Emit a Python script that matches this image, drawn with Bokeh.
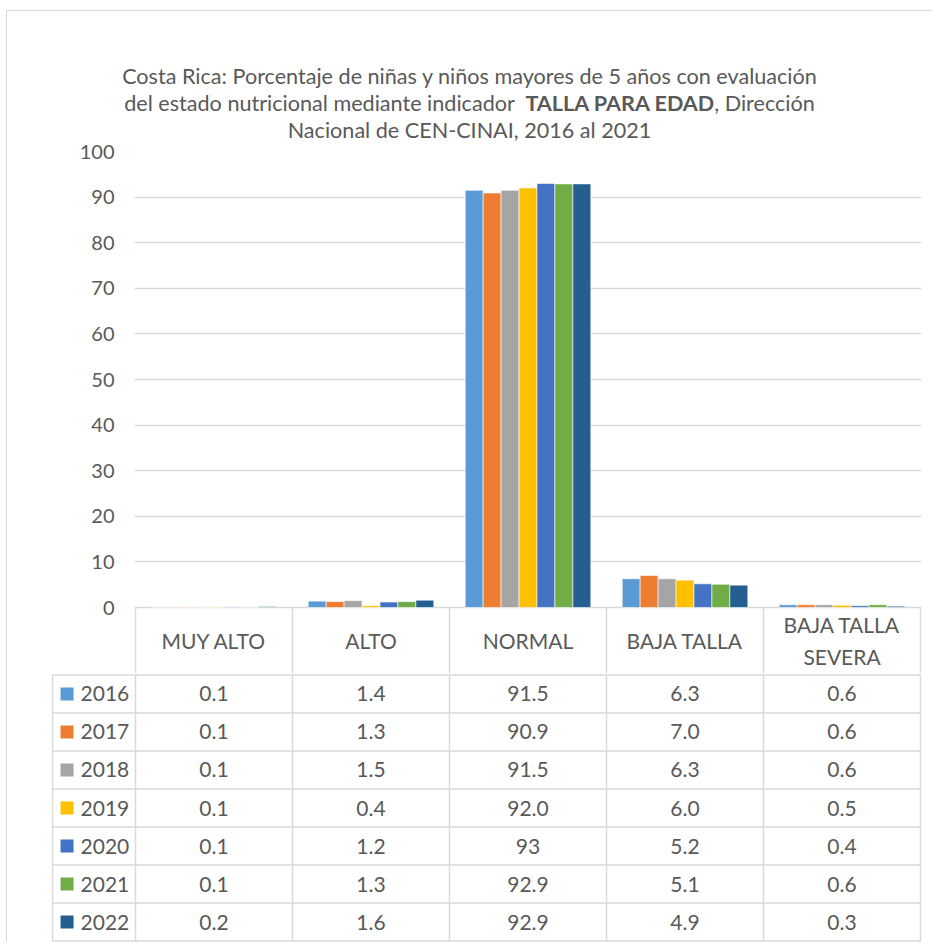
from bokeh.plotting import figure
from bokeh.models import Range1d, FixedTicker, ColumnDataSource, Div
from bokeh.transform import dodge
from bokeh.layouts import column
from bokeh.core.properties import value
from bokeh.embed import file_html
from bokeh.resources import INLINE

# ---------------- data ----------------
categories = ["MUY ALTO", "ALTO", "NORMAL", "BAJA TALLA", "BAJA TALLA SEVERA"]
header_labels = ["MUY ALTO", "ALTO", "NORMAL", "BAJA TALLA", "BAJA TALLA\nSEVERA"]
years = ["2016", "2017", "2018", "2019", "2020", "2021", "2022"]
v2016 = [0.1, 1.4, 91.5, 6.3, 0.6]
v2017 = [0.1, 1.3, 90.9, 7.0, 0.6]
v2018 = [0.1, 1.5, 91.5, 6.3, 0.6]
v2019 = [0.1, 0.4, 92.0, 6.0, 0.5]
v2020 = [0.1, 1.2, 93, 5.2, 0.4]
v2021 = [0.1, 1.3, 92.9, 5.1, 0.6]
v2022 = [0.2, 1.6, 92.9, 4.9, 0.3]
series = [v2016, v2017, v2018, v2019, v2020, v2021, v2022]
colors = ["#5B9BD5", "#ED7D31", "#A5A5A5", "#FFC000", "#4472C4", "#70AD47", "#255E91"]
y_ticks = [0, 10, 20, 30, 40, 50, 60, 70, 80, 90, 100]

TXT = "#595959"
GRID = "#D9D9D9"
FONT = "Lato"

ncat = len(categories)
nyr = len(years)
centers = [i + 0.5 for i in range(ncat)]
W = 925

# ---------------- title ----------------
title = Div(
    text=('<div style="padding-top:52px;text-align:center;font-family:Lato;font-size:21.6px;'
          'line-height:27px;color:#595959;width:925px;white-space:nowrap;">'
          'Costa Rica: Porcentaje de niñas y niños mayores de 5 años con evaluación<br>'
          'del estado nutricional mediante indicador&nbsp; <b>TALLA PARA EDAD</b>, Dirección<br>'
          'Nacional de CEN-CINAI, 2016 al 2021</div>'),
    width=W, height=129, margin=0, styles={"overflow": "visible"})

# ---------------- chart ----------------
PXU = 4.56          # pixels per percentage point
hdr_units = 66 / PXU
p = figure(width=W, height=533,
           x_range=Range1d(-1 / 157, ncat + 1 / 157), y_range=Range1d(-hdr_units, 100),
           output_backend="svg", toolbar_location=None,
           min_border_left=127, min_border_right=11, min_border_top=11, min_border_bottom=0,
           x_axis_location=None, frame_align=False, margin=0)
p.outline_line_color = None
p.border_fill_color = None
p.background_fill_color = None
p.xgrid.visible = False
p.ygrid.grid_line_color = GRID
p.ygrid.grid_line_width = 1.5
p.yaxis.ticker = FixedTicker(ticks=y_ticks)
p.yaxis.axis_line_color = None
p.yaxis.major_tick_line_color = None
p.yaxis.minor_tick_line_color = None
p.yaxis.major_label_standoff = 14
p.yaxis.major_label_text_font = FONT
p.yaxis.major_label_text_font_size = "20px"
p.yaxis.major_label_text_color = TXT

bw = 0.8 / nyr
for i, (yr, vals, col) in enumerate(zip(years, series, colors)):
    src = ColumnDataSource(dict(x=centers, top=vals))
    p.vbar(x=dodge("x", (i - (nyr - 1) / 2) * bw), top="top", width=bw, source=src,
           fill_color=col, line_color="white", line_width=0.6)

# header row of the data table (category names)
vx = list(range(ncat + 1))
p.segment(x0=vx, y0=[0] * len(vx), x1=vx, y1=[-hdr_units] * len(vx),
          line_color=GRID, line_width=1.5)
p.text(x=centers, y=[-hdr_units / 2] * ncat, text=header_labels, text_align="center",
       text_baseline="middle", text_font=value(FONT), text_font_size="21px",
       text_color=TXT, text_line_height=1.3)

# ---------------- data table ----------------
U = 38.3
t = figure(width=W, height=269,
           x_range=Range1d(-84 / 157, ncat + 1 / 157),
           y_range=Range1d(-nyr - 1.5 / U, 1.5 / U),
           output_backend="svg", toolbar_location=None,
           min_border_left=44, min_border_right=11, min_border_top=0, min_border_bottom=0,
           x_axis_location=None, y_axis_location=None, frame_align=False, margin=0)
t.outline_line_color = None
t.grid.visible = False

leg_left = -83 / 157
hy = [-r for r in range(nyr + 1)]
t.segment(x0=[leg_left] * len(hy), y0=hy, x1=[ncat] * len(hy), y1=hy,
          line_color=GRID, line_width=1.5)
tvx = list(range(ncat + 1)) + [leg_left]
t.segment(x0=tvx, y0=[-nyr] * len(tvx), x1=tvx, y1=[0] * len(tvx),
          line_color=GRID, line_width=1.5)

def fmt(v):
    return str(v) if isinstance(v, int) else f"{v:.1f}"

cx, cy, ct = [], [], []
for r, vals in enumerate(series):
    for c, v in enumerate(vals):
        cx.append(centers[c]); cy.append(-r - 0.5); ct.append(fmt(v))
t.text(x=cx, y=cy, text=ct, text_align="center", text_baseline="middle",
       text_font=value(FONT), text_font_size="21px", text_color=TXT)

ry = [-r - 0.5 for r in range(nyr)]
t.scatter(x=[-0.436] * nyr, y=ry, marker="square", size=13, fill_color=colors, line_color=None)
t.text(x=[-0.350] * nyr, y=ry, text=years, text_align="left", text_baseline="middle",
       text_font=value(FONT), text_font_size="21px", text_color=TXT)

layout = column(title, p, t, spacing=0, margin=(10, 0, 0, 6),
                styles={"border-left": "1px solid #D9D9D9", "border-top": "1px solid #D9D9D9"})
open("out.html", "w").write(file_html(layout, INLINE))
